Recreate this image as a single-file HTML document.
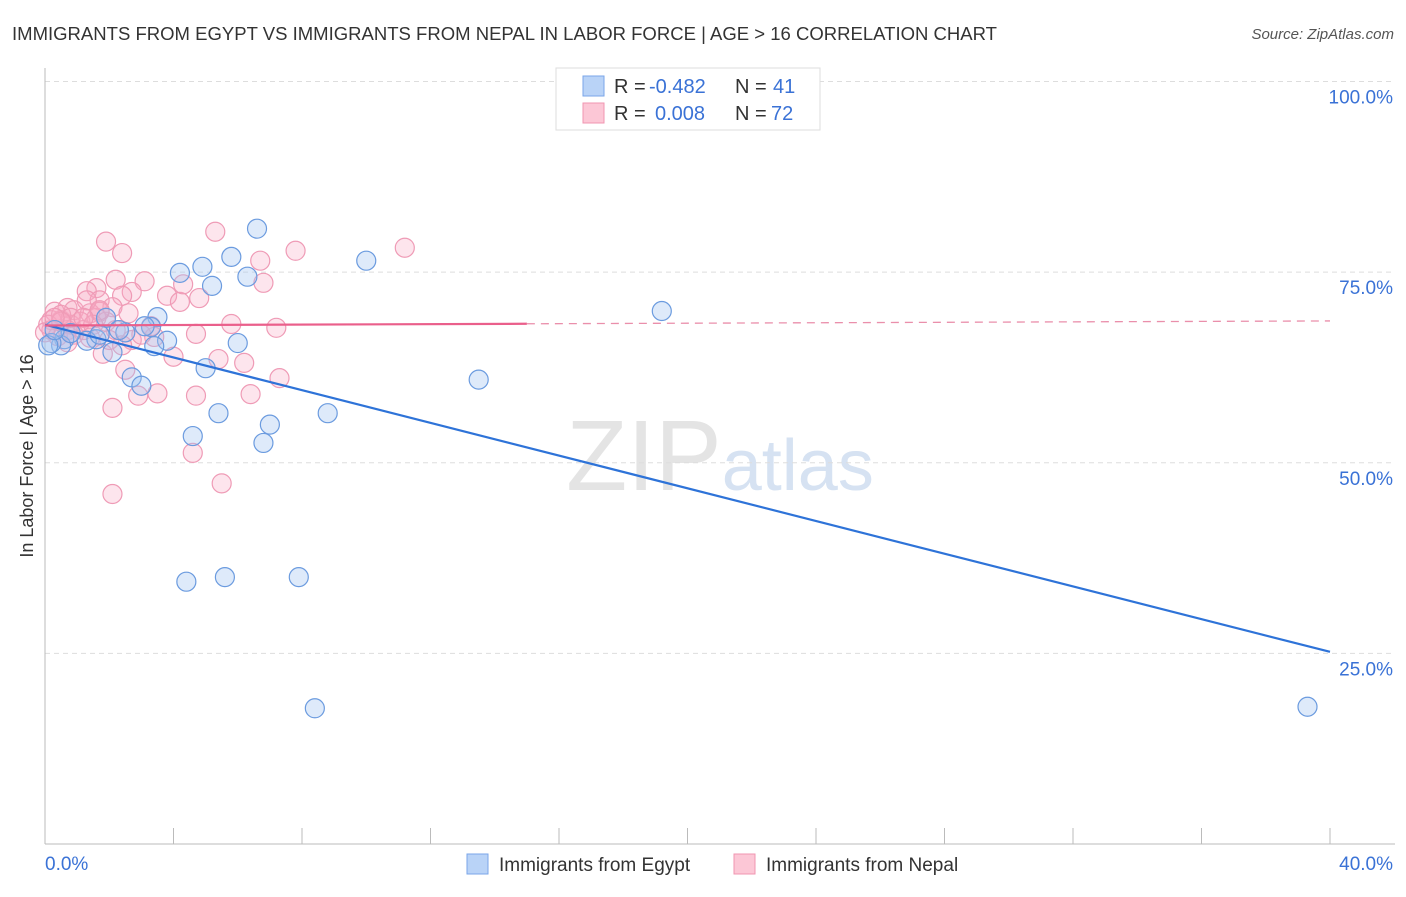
<!DOCTYPE html>
<html><head><meta charset="utf-8"><style>
body{margin:0;background:#fff;font-family:"Liberation Sans",sans-serif}
svg text{font-family:"Liberation Sans",sans-serif}
</style></head><body>
<svg id="chart" width="1406" height="892" xmlns="http://www.w3.org/2000/svg">
<text x="12" y="40" font-size="18" fill="#333" textLength="985" lengthAdjust="spacingAndGlyphs">IMMIGRANTS FROM EGYPT VS IMMIGRANTS FROM NEPAL IN LABOR FORCE | AGE &gt; 16 CORRELATION CHART</text>
<text x="1394" y="39" font-size="15" fill="#555" text-anchor="end" font-style="italic">Source: ZipAtlas.com</text>
<text x="720" y="490" font-size="100" fill="#e4e4e4" text-anchor="middle" font-family="Liberation Serif">ZIP<tspan fill="#d6e2f2" font-family="Liberation Sans" font-size="72">atlas</tspan></text>
<g id="grid"></g><g id="axes"></g><g id="pts"></g><g id="lines"></g>
<text transform="translate(33,456) rotate(-90)" font-size="18" fill="#333" text-anchor="middle">In Labor Force | Age &gt; 16</text>
<g>
<rect x="556" y="68" width="264" height="62" fill="#fff" stroke="#ddd"/>
<rect x="583" y="76" width="21" height="20" fill="#b9d3f7" stroke="#7aa6e8"/>
<rect x="583" y="103" width="21" height="20" fill="#fcc7d6" stroke="#f096b0"/>
<text x="614" y="93" font-size="20" fill="#333">R =</text>
<text x="649" y="93" font-size="20" fill="#3a72d6">-0.482</text>
<text x="735" y="93" font-size="20" fill="#333">N =</text>
<text x="773" y="93" font-size="20" fill="#3a72d6">41</text>
<text x="614" y="120" font-size="20" fill="#333">R =</text>
<text x="655" y="120" font-size="20" fill="#3a72d6">0.008</text>
<text x="735" y="120" font-size="20" fill="#333">N =</text>
<text x="771" y="120" font-size="20" fill="#3a72d6">72</text>
</g>
<g>
<rect x="467" y="854" width="21" height="20" fill="#b9d3f7" stroke="#7aa6e8"/>
<text x="499" y="871" font-size="19" fill="#333">Immigrants from Egypt</text>
<rect x="734" y="854" width="21" height="20" fill="#fcc7d6" stroke="#f096b0"/>
<text x="766" y="871" font-size="19" fill="#333">Immigrants from Nepal</text>
</g>
</svg>
<script>
const xTicks=["0.0%","40.0%"];
const yTicks=[100,75,50,25];
const yTickLabels=["100.0%","75.0%","50.0%","25.0%"];
const egyptX=[6.6,10.0,4.2,4.9,5.8,6.3,5.2,19.2,3.5,1.9,3.3,3.1,2.5,1.6,1.3,0.6,0.5,0.2,3.8,3.4,2.1,6.0,5.0,2.7,3.0,13.5,5.4,8.8,7.0,4.6,6.8,4.4,5.6,7.9,8.4,39.3,0.1,0.8,0.3,2.3,1.7];
const egyptY=[80.7,76.5,74.9,75.7,77.0,74.4,73.2,69.9,69.1,69.0,67.8,67.9,67.1,66.2,66.0,66.2,65.4,65.7,66.0,65.3,64.5,65.7,62.4,61.2,60.1,60.9,56.5,56.5,55.0,53.5,52.6,34.4,35.0,35.0,17.8,18.0,65.4,67.0,67.4,67.4,66.8];
const nepalX=[1.9,2.4,5.3,7.8,11.2,6.7,6.8,3.1,2.2,1.6,1.3,2.7,1.7,2.4,3.8,4.2,4.8,4.3,0.7,0.3,0.5,0.9,1.4,2.1,2.6,5.8,7.2,4.7,3.4,2.7,1.8,4.0,5.4,6.2,2.5,7.3,3.5,2.9,4.7,2.1,6.4,4.6,5.5,2.1,0.2,0.2,0.8,1.1,1.6,1.7,0.7,0.4,1.2,0.9,0.1,0.5,0.8,1.9,2.2,3.0,1.3,1.7,3.3,1.5,0.5,1.2,0.0,2.0,2.4,0.7,0.3,1.4];
const nepalY=[79.0,77.5,80.3,77.8,78.2,76.5,73.6,73.8,74.0,72.9,72.5,72.4,71.3,71.9,71.9,71.1,71.6,73.4,70.3,69.8,68.7,70.0,69.6,70.4,69.6,68.2,67.7,66.9,66.5,66.1,64.3,63.9,63.6,63.1,62.2,61.1,59.1,58.8,58.8,57.2,59.0,51.3,47.3,45.9,68.7,67.4,68.1,68.5,69.0,69.8,67.4,66.6,67.4,66.8,68.1,69.4,69.0,68.5,67.4,66.8,71.3,70.0,67.9,68.1,68.5,69.0,67.1,66.1,65.4,65.8,69.0,66.4];
const egyptTrend=[68.1,25.2];
const nepalTrend=[68.0,68.6];
const X=v=>45+v/40*1285, Y=v=>844-v/100*762.5;
const NS="http://www.w3.org/2000/svg";
function mk(p,t,a){const e=document.createElementNS(NS,t);for(const k in a)e.setAttribute(k,a[k]);p.appendChild(e);return e;}
const grid=document.getElementById('grid'),axes=document.getElementById('axes'),pts=document.getElementById('pts'),lines=document.getElementById('lines');
yTicks.forEach((v,i)=>{
 const l=mk(grid,'line',{x1:45,x2:1395,y1:Y(v),y2:Y(v),stroke:'#ddd','stroke-dasharray':'5,4'});
 
 
 const t=mk(grid,'text',{x:1393,y:Y(v)+22,'font-size':19,fill:'#3a72d6','text-anchor':'end'});t.textContent=yTickLabels[i];
 
 
});
const ya=mk(axes,'line',{x1:45,x2:45,y1:68,y2:844,stroke:'#bbb'});


const xa=mk(axes,'line',{x1:45,x2:1395,y1:844,y2:844,stroke:'#bbb'});


for(let v=0;v<=40;v+=4){const t=mk(axes,'line',{x1:X(v),x2:X(v),y1:828,y2:844,stroke:'#bbb'});
 
 }
const xl0=mk(axes,'text',{x:45,y:870,'font-size':19,fill:'#3a72d6'});xl0.textContent=xTicks[0];


const xl1=mk(axes,'text',{x:1393,y:870,'font-size':19,fill:'#3a72d6','text-anchor':'end'});xl1.textContent=xTicks[1];


nepalX.forEach((v,i)=>{const c=mk(pts,'circle',{cx:X(v),cy:Y(nepalY[i]),r:9.5,fill:'rgba(248,170,195,0.3)',stroke:'#ef9bb6','stroke-width':1.2});
 
 });
egyptX.forEach((v,i)=>{const c=mk(pts,'circle',{cx:X(v),cy:Y(egyptY[i]),r:9.5,fill:'rgba(160,195,240,0.35)',stroke:'#6b9bdf','stroke-width':1.2});
 
 });
const bl=mk(lines,'line',{x1:X(0),y1:Y(egyptTrend[0]),x2:X(40),y2:Y(egyptTrend[1]),stroke:'#2e73d8','stroke-width':2.2});


const f=15,pm=nepalTrend[0]+(nepalTrend[1]-nepalTrend[0])*f/40;
const pl=mk(lines,'line',{x1:X(0),y1:Y(nepalTrend[0]),x2:X(f),y2:Y(pm),stroke:'#ea5f8b','stroke-width':2.2});


const pd=mk(lines,'line',{x1:X(f),y1:Y(pm),x2:X(40),y2:Y(nepalTrend[1]),stroke:'#ea8fab','stroke-width':1.3,'stroke-dasharray':'8,6'});


</script>
</body></html>
